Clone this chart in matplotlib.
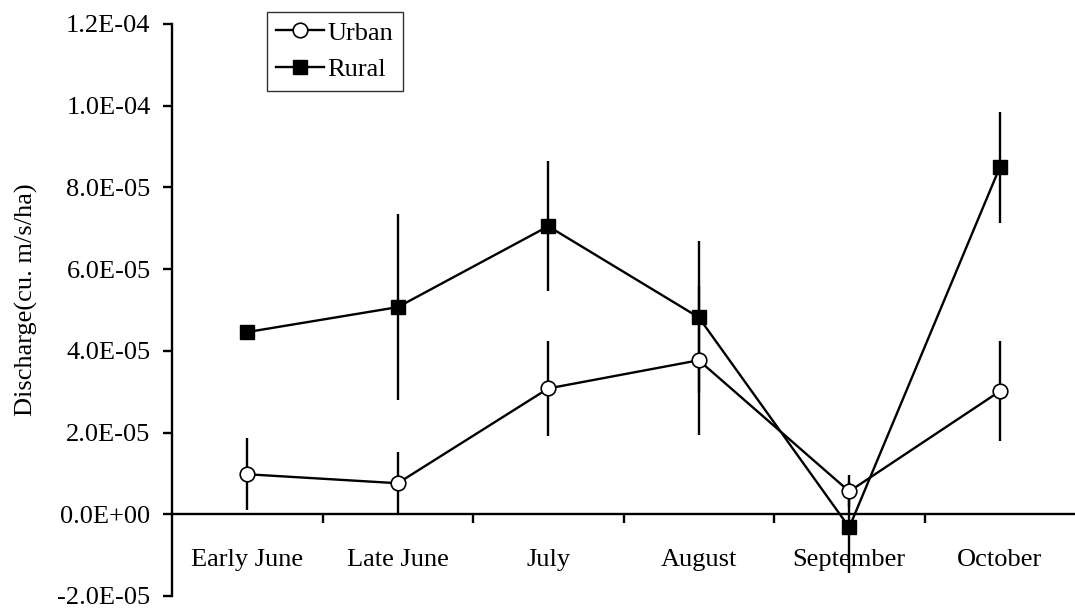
import numpy as np
import matplotlib
matplotlib.use("Agg")
import matplotlib.pyplot as plt
from matplotlib.ticker import FuncFormatter
from matplotlib.lines import Line2D

plt.rcParams['font.family'] = ['Liberation Serif', 'DejaVu Serif']

months = ["Early June", "Late June", "July", "August", "September", "October"]
urban = [0.98e-5, 0.76e-5, 3.08e-5, 3.77e-5, 0.56e-5, 3.01e-5]
urban_err = [0.88e-5, 0.76e-5, 1.16e-5, 1.82e-5, 0.39e-5, 1.22e-5]
rural = [4.46e-5, 5.07e-5, 7.05e-5, 4.82e-5, -0.32e-5, 8.49e-5]
rural_err = [0.0, 2.28e-5, 1.59e-5, 1.86e-5, 1.12e-5, 1.35e-5]

fs = 19
lw = 1.7

fig = plt.figure(figsize=(10.75, 6.12), dpi=100)
ax = fig.add_axes([172 / 1075, 16 / 612, 1 - 172 / 1075, (596 - 24) / 612])

x = np.arange(len(months))
ax.errorbar(x, rural, yerr=rural_err, fmt='-s', color='black', lw=lw, elinewidth=lw,
            capsize=0, ms=10.5, mfc='black', mec='black', zorder=2)
ax.errorbar(x, urban, yerr=urban_err, fmt='-o', color='black', lw=lw, elinewidth=lw,
            capsize=0, ms=10.5, mfc='white', mec='black', mew=1.2, zorder=3)

ax.set_xlim(-0.5, 5.5)
ax.set_ylim(-2e-5, 1.2e-4)

for s in ['top', 'right']:
    ax.spines[s].set_visible(False)
ax.spines['bottom'].set_position(('data', 0))
ax.spines['bottom'].set_linewidth(lw)
ax.spines['left'].set_linewidth(lw)

ax.set_yticks(np.arange(-2e-5, 1.21e-4, 2e-5))
ax.yaxis.set_major_formatter(FuncFormatter(lambda v, p: "%.1E" % v if abs(v) > 1e-12 else "0.0E+00"))
ax.tick_params(axis='y', direction='out', length=9 * 0.72, width=lw, labelsize=fs, pad=9)

ax.set_xticks(np.arange(0.5, 5.5, 1.0))
ax.set_xticklabels([])
ax.tick_params(axis='x', which='major', direction='out', length=9 * 0.72, width=lw)
ax.set_xticks(x, minor=True)
ax.set_xticklabels(months, minor=True)
ax.tick_params(axis='x', which='minor', length=0, labelsize=fs, pad=25)

fig.text(26 / 1075, 1 - 300 / 612, "Discharge(cu. m/s/ha)", rotation=90,
         ha='center', va='center', fontsize=fs)

handles = [
    Line2D([], [], color='black', lw=lw, marker='o', ms=10.5, mfc='white', mec='black', mew=1.2),
    Line2D([], [], color='black', lw=lw, marker='s', ms=10.5, mfc='black', mec='black'),
]
leg = fig.legend(handles, ["Urban", "Rural"], loc='upper left',
                 bbox_to_anchor=(267 / 1075, 1 - 12 / 612), fontsize=fs,
                 frameon=True, fancybox=False, handlelength=1.8, handletextpad=0.15,
                 borderpad=0.35, labelspacing=0.5, borderaxespad=0)
leg.get_frame().set_edgecolor('black')
leg.get_frame().set_linewidth(1.0)

fig.savefig("out.png", dpi=100)
